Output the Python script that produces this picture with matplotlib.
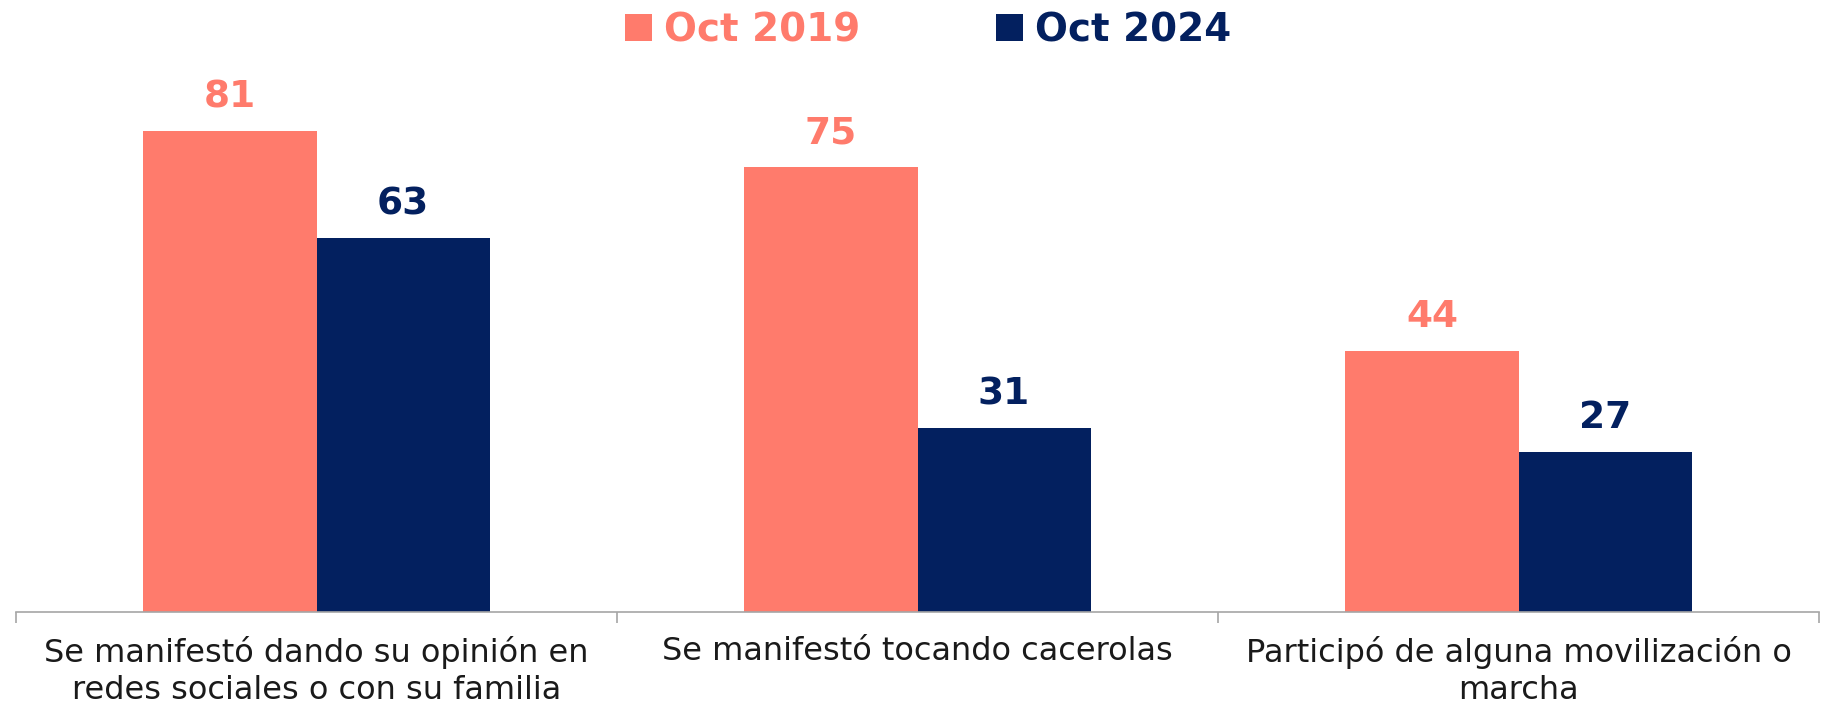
import matplotlib
matplotlib.use("Agg")
import matplotlib.pyplot as plt
import numpy as np
from matplotlib.patches import Patch

categories = ["Se manifestó dando su opinión en\nredes sociales o con su familia",
              "Se manifestó tocando cacerolas",
              "Participó de alguna movilización o\nmarcha"]
series_names = ["Oct 2019", "Oct 2024"]
oct2019 = [81, 75, 44]
oct2024 = [63, 31, 27]

colors = ["#FF7B6C", "#03205F"]

W, H = 1832, 707
fig = plt.figure(figsize=(W / 100, H / 100), dpi=100)
ax = fig.add_axes([16 / W, 95 / H, 1803 / W, 570 / H])

x = np.arange(len(categories))
bw = 0.288
for vals, off, col in [(oct2019, -bw / 2, colors[0]), (oct2024, bw / 2, colors[1])]:
    bars = ax.bar(x + off, vals, width=bw, color=col, zorder=2)
    for b, v in zip(bars, vals):
        ax.annotate(f"{v}", (b.get_x() + b.get_width() / 2, v), xytext=(0, 17),
                    textcoords="offset points", ha="center", va="baseline",
                    fontsize=27, fontweight="bold", color=col)

ax.set_xlim(-0.5, 2.5)
ax.set_ylim(0, 96)
for s in ["top", "right", "left"]:
    ax.spines[s].set_visible(False)
ax.spines["bottom"].set_color("#A6A6A6")
ax.spines["bottom"].set_linewidth(1.2)
ax.set_yticks([])
ax.set_xticks(x)
ax.set_xticklabels(categories, fontsize=23, color="#1a1a1a", linespacing=1.25)
ax.tick_params(axis="x", which="major", length=0, pad=17)
ax.set_xticks([-0.5, 0.5, 1.5, 2.5], minor=True)
ax.tick_params(axis="x", which="minor", length=8, color="#A6A6A6", width=1.2)

handles = [Patch(facecolor=c, label=n) for c, n in zip(colors, series_names)]
leg = fig.legend(handles=handles, loc="center", bbox_to_anchor=(928 / W, 1 - 30 / H),
                 ncol=2, frameon=False, handlelength=0.7, handleheight=0.7,
                 handletextpad=0.3, columnspacing=3.5,
                 prop={"weight": "bold", "size": 28})
for t, c in zip(leg.get_texts(), colors):
    t.set_color(c)

fig.savefig("out.png", dpi=100)
